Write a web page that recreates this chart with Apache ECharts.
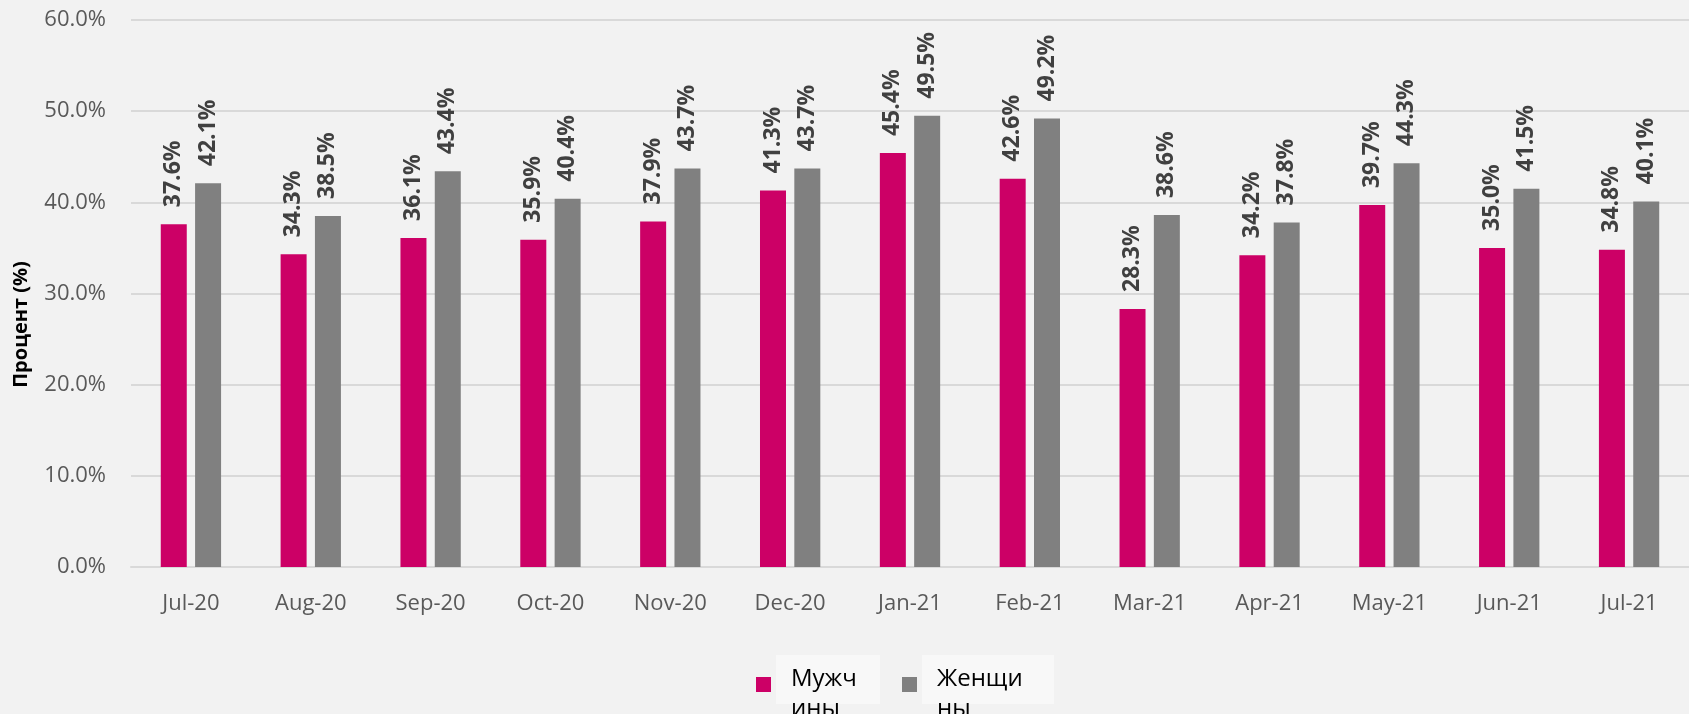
<!DOCTYPE html>
<html>
<head>
<meta charset="utf-8">
<script src="https://cdn.jsdelivr.net/npm/echarts@6/dist/echarts.min.js"></script>
<style>
  html, body { margin: 0; padding: 0; background: #f2f2f2; }
  #chart { width: 1689px; height: 714px; }
</style>
</head>
<body>
<div id="chart"></div>
<script>
const categories = ['Jul-20', 'Aug-20', 'Sep-20', 'Oct-20', 'Nov-20', 'Dec-20', 'Jan-21',
  'Feb-21', 'Mar-21', 'Apr-21', 'May-21', 'Jun-21', 'Jul-21'];
const men = [37.6, 34.3, 36.1, 35.9, 37.9, 41.3, 45.4, 42.6, 28.3, 34.2, 39.7, 35.0, 34.8];
const women = [42.1, 38.5, 43.4, 40.4, 43.7, 43.7, 49.5, 49.2, 38.6, 37.8, 44.3, 41.5, 40.1];
const seriesNames = ['Мужчины', 'Женщины'];
// legend labels wrap inside a narrow box in the original
const legendLines = { 'Мужчины': ['Мужч', 'ины'], 'Женщины': ['Женщи', 'ны'] };

const font = '"Open Sans", "Noto Sans", sans-serif';
const chart = echarts.init(document.getElementById('chart'));

const barLabel = {
  show: true,
  position: 'top',
  rotate: 90,
  align: 'left',
  verticalAlign: 'middle',
  distance: 17,
  fontFamily: font,
  fontWeight: 'bold',
  fontSize: 23,
  color: '#404040',
  formatter: p => p.value.toFixed(1) + '%'
};

const legendText = { fontFamily: font, fontSize: 24, color: '#000' };

chart.setOption({
  backgroundColor: '#f2f2f2',
  animation: false,
  grid: { left: 131, right: 0, top: 20, bottom: 147 },
  legend: {
    top: 650,
    left: 751,
    itemWidth: 15,
    itemHeight: 15,
    itemGap: 22,
    icon: 'rect',
    formatter: name => {
      const k = name === seriesNames[0] ? '1' : '2';
      return '{a' + k + '|' + legendLines[name][0] + '}\n{b|' + legendLines[name][1] + '}';
    },
    textStyle: {
      ...legendText,
      rich: {
        a1: { ...legendText, backgroundColor: '#f8f8f8', width: 89, height: 49, padding: [0, 0, 0, 15] },
        a2: { ...legendText, backgroundColor: '#f8f8f8', width: 117, height: 49, padding: [0, 0, 0, 15] },
        b: { ...legendText, lineHeight: 10, padding: [0, 0, 0, 15] }
      }
    },
    data: seriesNames
  },
  xAxis: {
    type: 'category',
    data: categories,
    axisLine: { show: true, lineStyle: { color: '#d9d9d9', width: 2 } },
    axisTick: { show: false },
    axisLabel: { fontFamily: font, fontSize: 22, color: '#595959', margin: 26 }
  },
  yAxis: {
    type: 'value',
    min: 0,
    max: 60,
    interval: 10,
    name: 'Процент (%)',
    nameLocation: 'middle',
    nameGap: 100,
    nameTextStyle: { fontFamily: font, fontSize: 20, fontWeight: 'bold', color: '#000',
      padding: [0, 62, 0, 0] },
    axisLine: { show: false },
    axisTick: { show: false },
    splitLine: { lineStyle: { color: '#d9d9d9', width: 2 } },
    axisLabel: { fontFamily: font, fontSize: 22, color: '#595959', margin: 25,
      formatter: v => v.toFixed(1) + '%' }
  },
  series: [
    {
      name: seriesNames[0],
      type: 'bar',
      data: men,
      barWidth: 26,
      barGap: '32%',
      itemStyle: { color: '#cc0066' },
      label: barLabel
    },
    {
      name: seriesNames[1],
      type: 'bar',
      data: women,
      barWidth: 26,
      barGap: '32%',
      itemStyle: { color: '#808080' },
      label: barLabel
    }
  ]
});
</script>
</body>
</html>
